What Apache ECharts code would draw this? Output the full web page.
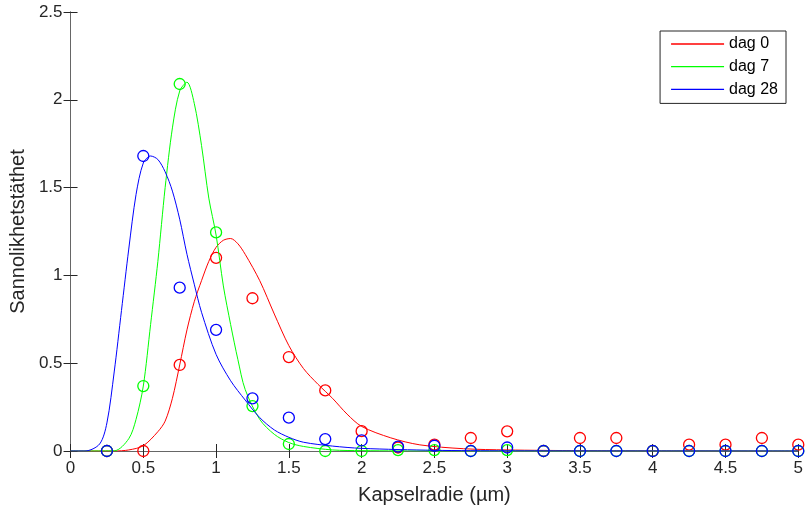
<!DOCTYPE html>
<html>
<head>
<meta charset="utf-8">
<script src="https://cdn.jsdelivr.net/npm/echarts@6/dist/echarts.min.js"></script>
<style>
  html, body { margin: 0; padding: 0; background: #fff; }
  #main { width: 806px; height: 510px; }
</style>
</head>
<body>
<div id="main"></div>
<script>
// mätpunkter (cirklar)
var pointX = [0.25, 0.5, 0.75, 1, 1.25, 1.5, 1.75, 2, 2.25, 2.5, 2.75, 3, 3.25, 3.5, 3.75, 4, 4.25, 4.5, 4.75, 5];
var dag0Points  = [0, 0, 0.49, 1.10, 0.87, 0.535, 0.345, 0.113, 0.02, 0.036, 0.074, 0.112, 0, 0.074, 0.074, 0, 0.036, 0.036, 0.074, 0.036];
var dag7Points  = [0, 0.37, 2.09, 1.245, 0.256, 0.04, 0, 0, 0.005, 0.005, 0, 0.005, 0, 0, 0, 0, 0, 0, 0, 0];
var dag28Points = [0, 1.68, 0.93, 0.69, 0.30, 0.19, 0.068, 0.06, 0.025, 0.03, 0, 0.02, 0, 0, 0, 0, 0, 0, 0, 0];

// anpassade kurvor
var dag0CurveX = [0, 0.3, 0.4, 0.5, 0.6, 0.65, 0.7, 0.75, 0.8, 0.85, 0.9, 0.95, 1, 1.05, 1.1, 1.15, 1.2, 1.3, 1.4, 1.5, 1.6, 1.7, 1.8, 1.9, 2, 2.2, 2.4, 2.7, 3, 3.5, 4, 5];
var dag0CurveY = [0, 0, 0.006, 0.03, 0.11, 0.17, 0.30, 0.49, 0.69, 0.85, 0.97, 1.08, 1.16, 1.20, 1.21, 1.18, 1.12, 0.97, 0.78, 0.60, 0.47, 0.38, 0.30, 0.21, 0.14, 0.075, 0.035, 0.013, 0.006, 0.002, 0.001, 0];
var dag7CurveX = [0, 0.3, 0.4, 0.45, 0.5, 0.55, 0.6, 0.65, 0.7, 0.75, 0.8, 0.85, 0.9, 0.95, 1, 1.05, 1.1, 1.15, 1.2, 1.3, 1.4, 1.5, 1.6, 1.8, 2, 2.5, 5];
var dag7CurveY = [0, 0.001, 0.07, 0.18, 0.37, 0.72, 1.08, 1.50, 1.84, 2.05, 2.10, 1.98, 1.74, 1.44, 1.23, 0.94, 0.72, 0.52, 0.35, 0.18, 0.095, 0.048, 0.026, 0.006, 0.002, 0, 0];
var dag28CurveX = [0, 0.1, 0.2, 0.25, 0.3, 0.35, 0.4, 0.45, 0.5, 0.55, 0.6, 0.65, 0.7, 0.75, 0.8, 0.85, 0.9, 1, 1.1, 1.2, 1.3, 1.4, 1.5, 1.6, 1.8, 2, 2.5, 3, 5];
var dag28CurveY = [0, 0, 0.04, 0.16, 0.45, 0.80, 1.15, 1.46, 1.64, 1.68, 1.66, 1.59, 1.48, 1.32, 1.12, 0.95, 0.79, 0.55, 0.40, 0.29, 0.19, 0.12, 0.078, 0.05, 0.028, 0.015, 0.004, 0.001, 0];

var xTicks = [0, 0.5, 1, 1.5, 2, 2.5, 3, 3.5, 4, 4.5, 5];
var yTicks = [0, 0.5, 1, 1.5, 2, 2.5];

var seriesNames = ['dag 0', 'dag 7', 'dag 28'];
var colors = ['#ff0000', '#00ff00', '#0000ff'];

function zip(a, b) {
    var out = [];
    for (var i = 0; i < a.length; i++) {
        out.push([a[i], b[i]]);
    }
    return out;
}

var curves = [zip(dag0CurveX, dag0CurveY), zip(dag7CurveX, dag7CurveY), zip(dag28CurveX, dag28CurveY)];
var points = [zip(pointX, dag0Points), zip(pointX, dag7Points), zip(pointX, dag28Points)];

var series = [];
for (var i = 0; i < 3; i++) {
    series.push({
        name: seriesNames[i],
        type: 'line',
        data: curves[i],
        smooth: 0.3,
        symbol: 'none',
        lineStyle: { color: colors[i], width: 1 },
        itemStyle: { color: colors[i] },
        z: 2 + i
    });
    series.push({
        name: seriesNames[i] + ' punkter',
        type: 'scatter',
        data: points[i],
        symbol: 'circle',
        symbolSize: 11,
        itemStyle: { color: 'rgba(255,255,255,0)', borderColor: colors[i], borderWidth: 1.3, opacity: 1 },
        z: 2 + i
    });
}

var axisColor = '#262626';
var lineColor = '#666666';
var textFont = 'Liberation Sans, Arial, sans-serif';

// legendens linjesymbol
var lineIcon = 'path://M0,0 L53,0 L53,1.3 L0,1.3 Z';

var option = {
    backgroundColor: '#ffffff',
    animation: false,
    grid: { left: 70, right: 1, top: 12, bottom: 58, containLabel: false },
    legend: {
        data: seriesNames.map(function (n) { return { name: n, icon: lineIcon }; }),
        orient: 'vertical',
        align: 'left',
        right: 20,
        top: 31,
        itemWidth: 53,
        itemHeight: 14,
        itemGap: 6.7,
        padding: [5, 8, 6, 11],
        borderColor: '#262626',
        borderWidth: 1,
        backgroundColor: '#fff',
        textStyle: { fontFamily: textFont, fontSize: 16, color: '#000' }
    },
    xAxis: [{
        type: 'value',
        min: 0,
        max: 5,
        interval: 0.5,
        name: 'Kapselradie (\u00b5m)',
        nameLocation: 'middle',
        nameGap: 34,
        nameTextStyle: { fontFamily: textFont, fontSize: 20, color: axisColor },
        axisLine: { show: true, lineStyle: { color: lineColor, width: 1 } },
        axisTick: { show: true, inside: true, length: 7, lineStyle: { color: axisColor } },
        axisLabel: {
            fontFamily: textFont, fontSize: 17, color: axisColor, margin: 9,
            formatter: function (v) { return xTicks.indexOf(v) >= 0 ? String(v) : ''; }
        },
        splitLine: { show: false }
    }, {
        type: 'value',
        position: 'top',
        min: 0,
        max: 5,
        interval: 0.5,
        axisLine: { show: true, lineStyle: { color: lineColor, width: 1 } },
        axisTick: { show: true, inside: true, length: 7, lineStyle: { color: axisColor } },
        axisLabel: { show: false },
        splitLine: { show: false }
    }],
    yAxis: [{
        type: 'value',
        min: 0,
        max: 2.5,
        interval: 0.5,
        name: 'Sannolikhetst\u00e4thet',
        nameLocation: 'middle',
        nameGap: 38,
        nameTextStyle: { fontFamily: textFont, fontSize: 20, color: axisColor },
        axisLine: { show: true, lineStyle: { color: lineColor, width: 1 } },
        axisTick: { show: true, inside: true, length: 7, lineStyle: { color: axisColor } },
        axisLabel: {
            fontFamily: textFont, fontSize: 17, color: axisColor, margin: 8,
            formatter: function (v) { return yTicks.indexOf(v) >= 0 ? String(v) : ''; }
        },
        splitLine: { show: false }
    }, {
        type: 'value',
        position: 'right',
        min: 0,
        max: 2.5,
        interval: 0.5,
        axisLine: { show: true, lineStyle: { color: lineColor, width: 1 } },
        axisTick: { show: true, inside: true, length: 7, lineStyle: { color: axisColor } },
        axisLabel: { show: false },
        splitLine: { show: false }
    }],
    series: series
};

var myChart = echarts.init(document.getElementById('main'));
myChart.setOption(option);
</script>
</body>
</html>
